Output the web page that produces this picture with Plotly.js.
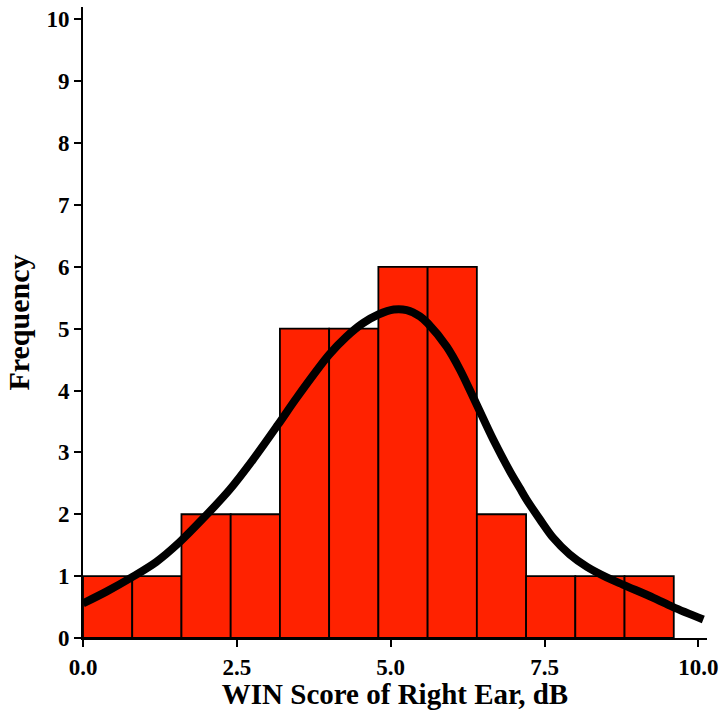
<!DOCTYPE html>
<html>
<head>
<meta charset="utf-8">
<script src="https://cdn.plot.ly/plotly-3.0.1.min.js"></script>
<style>html,body{margin:0;padding:0;background:#fff}#chart{width:720px;height:710px}</style>
</head>
<body>
<div id="chart"></div>
<script>
// Histogram bins (left edges, width 0.8) and counts
const binStarts = [0.0, 0.8, 1.6, 2.4, 3.2, 4.0, 4.8, 5.6, 6.4, 7.2, 8.0, 8.8];
const binWidth = 0.8;
const counts = [1, 1, 2, 2, 5, 5, 6, 6, 2, 1, 1, 1];

// Density curve (scaled to frequency)
const curveX = [0.0, 0.38, 0.79, 1.19, 1.57, 1.95, 2.385, 2.76, 3.17, 3.47, 4.0, 4.28, 4.55, 4.8, 5.05, 5.26, 5.475, 5.6, 5.91, 6.125, 6.385, 6.67, 6.94, 7.1, 7.2, 7.43, 7.64, 7.91, 8.19, 8.51, 8.78, 9.27, 9.59, 10.08];
const curveY = [0.56, 0.75, 0.98, 1.23, 1.55, 1.93, 2.40, 2.88, 3.45, 3.88, 4.58, 4.87, 5.09, 5.23, 5.31, 5.30, 5.2, 5.09, 4.71, 4.34, 3.80, 3.2, 2.69, 2.42, 2.25, 1.91, 1.62, 1.35, 1.15, 0.98, 0.86, 0.65, 0.50, 0.30];

const xTicks = [0, 2.5, 5, 7.5, 10];
const xTickText = ['0.0', '2.5', '5.0', '7.5', '10.0'];
const yTicks = [0, 1, 2, 3, 4, 5, 6, 7, 8, 9, 10];

const fam = '"Liberation Serif", "Times New Roman", serif';

const traces = [
  {
    type: 'bar',
    x: binStarts,
    y: counts,
    width: binStarts.map(() => binWidth),
    offset: 0,
    marker: {color: '#FF2200', line: {color: '#000', width: 1.8}},
    hoverinfo: 'skip'
  },
  {
    type: 'scatter',
    mode: 'lines',
    x: curveX,
    y: curveY,
    line: {color: '#000', width: 8, shape: 'spline', smoothing: 0.9},
    cliponaxis: false,
    hoverinfo: 'skip'
  }
];

const layout = {
  width: 720,
  height: 710,
  margin: {l: 83, r: 13, t: 7, b: 72},
  paper_bgcolor: '#fff',
  plot_bgcolor: '#fff',
  showlegend: false,
  bargap: 0,
  font: {family: fam, color: '#000'},
  xaxis: {
    range: [0, 10.14],
    tickvals: xTicks,
    ticktext: xTickText,
    ticks: 'outside',
    ticklen: 7,
    tickwidth: 2,
    tickcolor: '#000',
    showline: true,
    linecolor: '#000',
    linewidth: 2,
    showgrid: false,
    zeroline: false,
    ticklabeloverflow: 'allow',
    tickfont: {family: fam, size: 23, color: '#000', weight: 'bold'},
    title: {text: '<b>WIN Score of Right Ear, dB</b>', font: {family: fam, size: 29, color: '#000'}, standoff: 2}
  },
  yaxis: {
    range: [0, 10.2],
    tickvals: yTicks,
    ticks: 'outside',
    ticklen: 7,
    tickwidth: 2,
    tickcolor: '#000',
    showline: true,
    linecolor: '#000',
    linewidth: 2,
    showgrid: false,
    zeroline: false,
    tickfont: {family: fam, size: 23, color: '#000', weight: 'bold'},
    title: {text: '<b>Frequency</b>', font: {family: fam, size: 30, color: '#000'}, standoff: 8}
  }
};

Plotly.newPlot('chart', traces, layout, {displayModeBar: false, staticPlot: true});
</script>
</body>
</html>
